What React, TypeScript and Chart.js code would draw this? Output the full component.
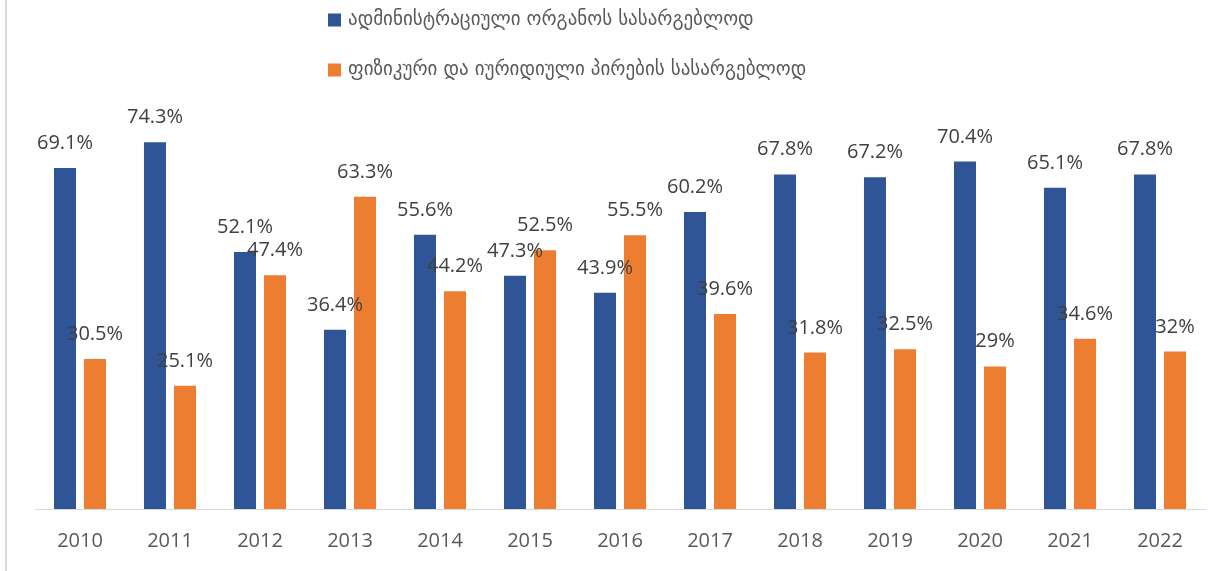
import React, { useEffect, useRef } from "react";
import { Chart, registerables } from "chart.js";

Chart.register(...registerables);

const years = ["2010", "2011", "2012", "2013", "2014", "2015", "2016", "2017", "2018", "2019", "2020", "2021", "2022"];
const adminValues = [69.1, 74.3, 52.1, 36.4, 55.6, 47.3, 43.9, 60.2, 67.8, 67.2, 70.4, 65.1, 67.8];
const personValues = [30.5, 25.1, 47.4, 63.3, 44.2, 52.5, 55.5, 39.6, 31.8, 32.5, 29, 34.6, 32];
const seriesNames = [
  "ადმინისტრაციული ორგანოს სასარგებლოდ",
  "ფიზიკური და იურიდიული პირების სასარგებლოდ",
];
const seriesColors = ["#2F5597", "#ED7D31"];

const LABEL_FONT = '20px "Open Sans", "Noto Sans", "DejaVu Sans", sans-serif';
const LEGEND_FONT = '19px "DejaVu Sans", "Noto Sans", sans-serif';

const frameLine = {
  id: "frameLine",
  beforeDraw(chart: any) {
    const ctx = chart.ctx;
    ctx.save();
    ctx.fillStyle = "#D9D9D9";
    ctx.fillRect(5, 0, 2, chart.height);
    ctx.restore();
  },
};

const valueLabels = {
  id: "valueLabels",
  afterDatasetsDraw(chart: any) {
    const ctx = chart.ctx;
    ctx.save();
    ctx.font = LABEL_FONT;
    ctx.fillStyle = "#404040";
    ctx.textAlign = "center";
    ctx.textBaseline = "alphabetic";
    chart.data.datasets.forEach((ds: any, di: number) => {
      const meta = chart.getDatasetMeta(di);
      meta.data.forEach((bar: any, i: number) => {
        ctx.fillText(String(ds.data[i]) + "%", bar.x, bar.y - 18);
      });
    });
    ctx.restore();
  },
};

const stackedLegend = {
  id: "stackedLegend",
  afterDraw(chart: any) {
    const ctx = chart.ctx;
    ctx.save();
    ctx.font = LEGEND_FONT;
    ctx.textBaseline = "middle";
    ctx.textAlign = "left";
    const rows = [20, 70];
    chart.data.datasets.forEach((ds: any, di: number) => {
      const y = rows[di];
      ctx.fillStyle = ds.backgroundColor;
      ctx.fillRect(328, y - 6.5, 13, 13);
      ctx.fillStyle = "#595959";
      ctx.fillText(ds.label, 348, y);
    });
    ctx.restore();
  },
};

export default function App() {
  const canvasRef = useRef<HTMLCanvasElement | null>(null);

  useEffect(() => {
    document.body.style.margin = "0";
    const canvas = canvasRef.current;
    if (!canvas) return;
    const chart = new Chart(canvas, {
      type: "bar",
      data: {
        labels: years,
        datasets: [
          {
            label: seriesNames[0],
            data: adminValues,
            backgroundColor: seriesColors[0],
            borderColor: "rgba(255,255,255,0.35)",
            borderWidth: 1,
          },
          {
            label: seriesNames[1],
            data: personValues,
            backgroundColor: seriesColors[1],
            borderColor: "rgba(255,255,255,0.35)",
            borderWidth: 1,
          },
        ],
      },
      options: {
        responsive: false,
        animation: false,
        devicePixelRatio: 1,
        categoryPercentage: 0.667,
        barPercentage: 0.8,
        layout: { padding: { left: 35, right: 20, top: 113, bottom: -2 } },
        plugins: {
          legend: { display: false },
          tooltip: { enabled: false },
          title: { display: false },
        },
        scales: {
          y: { display: false, min: 0, max: 80 },
          x: {
            grid: { display: false, drawTicks: false },
            border: { display: true, color: "#D9D9D9", width: 1 },
            ticks: {
              color: "#595959",
              padding: 20,
              font: { size: 20, family: '"Open Sans", "Noto Sans", sans-serif' },
            },
          },
        },
      },
      plugins: [frameLine, valueLabels, stackedLegend],
    } as any);
    return () => chart.destroy();
  }, []);

  return (
    <div style={{ position: "absolute", left: 0, top: 0, width: 1225, height: 571, background: "#fff" }}>
      <canvas ref={canvasRef} width={1225} height={571} />
    </div>
  );
}
